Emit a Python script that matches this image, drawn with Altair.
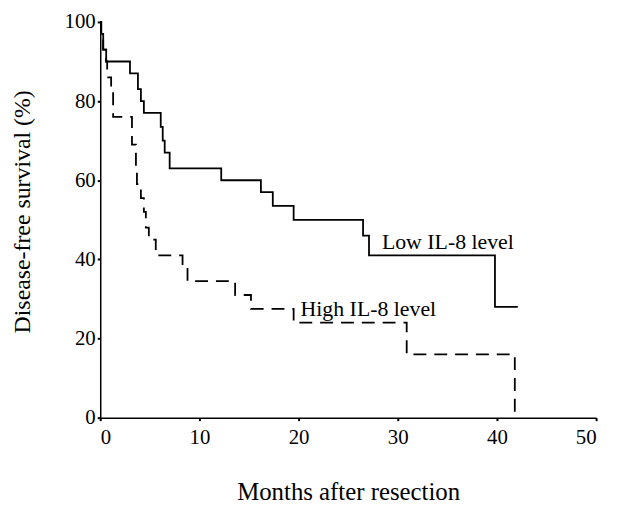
import altair as alt
import pandas as pd

# Low IL-8 level (solid) - Kaplan-Meier steps
low_months = [0, 0.1, 0.3, 0.6, 3.0, 3.8, 4.1, 4.4, 6.1, 6.3, 6.5, 7.0, 12.2, 16.2, 17.4, 19.5, 26.5, 27.1, 39.8, 42.1]
low_surv = [100, 97, 93, 90, 87, 83, 80, 77, 73.5, 70, 67, 63, 60, 57, 53.5, 50, 46, 41, 28, 28]

# High IL-8 level (dashed)
high_months = [0, 0.1, 0.3, 0.6, 0.7, 1.1, 1.3, 3.2, 3.6, 3.7, 4.1, 4.4, 4.6, 4.9, 5.6, 8.3, 8.8, 13.6, 15.2, 19.5, 30.9, 41.8]
high_surv = [100, 97, 93, 90, 86, 83, 76, 69, 63, 59, 55.5, 52, 48, 45, 41, 38, 34.5, 31, 27.5, 24, 16, 0]

x_ticks = [0, 10, 20, 30, 40, 50]
y_ticks = [0, 20, 40, 60, 80, 100]

label_text = ["Low IL-8 level", "High IL-8 level"]
label_x = [28.4, 20.2]
label_y = [42.7, 25.6]

FONT = "Liberation Serif"

low_df = pd.DataFrame({"month": low_months, "surv": low_surv})
high_df = pd.DataFrame({"month": high_months, "surv": high_surv})
lab_df = pd.DataFrame({"text": label_text, "month": label_x, "surv": label_y})

xscale = alt.Scale(domain=[0, 50], nice=False, zero=False)
yscale = alt.Scale(domain=[0, 100], nice=False)

xaxis = alt.Axis(
    title="Months after resection", values=x_ticks, grid=False,
    domainColor="black", domainWidth=1.5, tickColor="black", tickWidth=2, tickSize=3,
    labelFont=FONT, labelFontSize=21, labelColor="black", labelPadding=6,
    titleFont=FONT, titleFontSize=25, titleFontWeight="normal", titleColor="black",
    titleX=250, titleY=83, titleBaseline="alphabetic", titleAlign="center",
)
yaxis = alt.Axis(
    title="Disease-free survival (%)", values=y_ticks, grid=False,
    domainColor="black", domainWidth=1.5, tickColor="black", tickWidth=2, tickSize=3,
    labelFont=FONT, labelFontSize=21, labelColor="black", labelPadding=2,
    titleFont=FONT, titleFontSize=24, titleFontWeight="normal", titleColor="black",
    titleX=-78, titleY=191, titleBaseline="middle", titleAlign="center", titleAngle=-90,
)

low = alt.Chart(low_df).mark_line(interpolate="step-after", color="black", strokeWidth=1.8).encode(
    x=alt.X("month:Q", scale=xscale, axis=xaxis),
    y=alt.Y("surv:Q", scale=yscale, axis=yaxis),
)
high = alt.Chart(high_df).mark_line(interpolate="step-after", color="black", strokeWidth=1.8,
                                    strokeDash=[13, 8]).encode(
    x=alt.X("month:Q", scale=xscale),
    y=alt.Y("surv:Q", scale=yscale),
)
labels = alt.Chart(lab_df).mark_text(align="left", baseline="alphabetic", font=FONT,
                                     fontSize=22, color="black").encode(
    x=alt.X("month:Q", scale=xscale),
    y=alt.Y("surv:Q", scale=yscale),
    text="text:N",
)

chart = alt.layer(low, high, labels).properties(
    width=500, height=399,
    background="white",
    autosize=alt.AutoSizeParams(type="none"),
    padding={"left": 93, "top": 12, "right": 15, "bottom": 86},
).configure_view(stroke=None)

chart.save("out.html", embed_options={"renderer": "svg", "actions": False})
